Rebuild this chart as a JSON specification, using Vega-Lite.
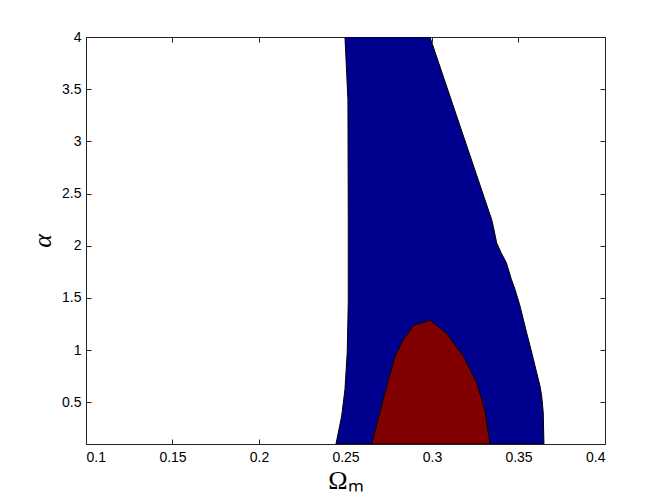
{
  "$schema": "https://vega.github.io/schema/vega-lite/v6.json",
  "width": 519,
  "height": 407,
  "autosize": {"type": "none"},
  "padding": {"left": 86, "top": 37, "right": 59, "bottom": 54},
  "background": "white",
  "config": {
    "view": {"stroke": "#222", "strokeWidth": 1},
    "axis": {
      "grid": false,
      "domain": false,
      "tickColor": "#222",
      "tickSize": -5,
      "labelFont": "Liberation Sans",
      "labelFontSize": 14,
      "labelColor": "#000",
      "titleFont": "Liberation Serif",
      "titleFontWeight": "normal",
      "titleColor": "#000"
    }
  },
  "datasets": {
    "blue": [
      {"i": 0, "omega_m": 0.2497, "alpha": 4.0},
      {"i": 1, "omega_m": 0.2514, "alpha": 3.40},
      {"i": 2, "omega_m": 0.2516, "alpha": 2.25},
      {"i": 3, "omega_m": 0.2516, "alpha": 1.456},
      {"i": 4, "omega_m": 0.2510, "alpha": 0.978},
      {"i": 5, "omega_m": 0.2497, "alpha": 0.624},
      {"i": 6, "omega_m": 0.2478, "alpha": 0.369},
      {"i": 7, "omega_m": 0.2445, "alpha": 0.1},
      {"i": 8, "omega_m": 0.3647, "alpha": 0.1},
      {"i": 9, "omega_m": 0.3643, "alpha": 0.402},
      {"i": 10, "omega_m": 0.3634, "alpha": 0.561},
      {"i": 11, "omega_m": 0.3624, "alpha": 0.657},
      {"i": 12, "omega_m": 0.3605, "alpha": 0.784},
      {"i": 13, "omega_m": 0.3586, "alpha": 0.912},
      {"i": 14, "omega_m": 0.3567, "alpha": 1.039},
      {"i": 15, "omega_m": 0.3547, "alpha": 1.166},
      {"i": 16, "omega_m": 0.3528, "alpha": 1.293},
      {"i": 17, "omega_m": 0.3509, "alpha": 1.421},
      {"i": 18, "omega_m": 0.3480, "alpha": 1.581},
      {"i": 19, "omega_m": 0.3459, "alpha": 1.677},
      {"i": 20, "omega_m": 0.3430, "alpha": 1.836},
      {"i": 21, "omega_m": 0.3400, "alpha": 1.931},
      {"i": 22, "omega_m": 0.3374, "alpha": 2.027},
      {"i": 23, "omega_m": 0.3354, "alpha": 2.186},
      {"i": 24, "omega_m": 0.3345, "alpha": 2.25},
      {"i": 25, "omega_m": 0.2988, "alpha": 4.0}
    ],
    "red": [
      {"i": 0, "omega_m": 0.2651, "alpha": 0.1},
      {"i": 1, "omega_m": 0.2718, "alpha": 0.529},
      {"i": 2, "omega_m": 0.2786, "alpha": 0.943},
      {"i": 3, "omega_m": 0.2834, "alpha": 1.102},
      {"i": 4, "omega_m": 0.2892, "alpha": 1.236},
      {"i": 5, "omega_m": 0.2988, "alpha": 1.287},
      {"i": 6, "omega_m": 0.3085, "alpha": 1.160},
      {"i": 7, "omega_m": 0.3181, "alpha": 0.943},
      {"i": 8, "omega_m": 0.3258, "alpha": 0.688},
      {"i": 9, "omega_m": 0.3306, "alpha": 0.430},
      {"i": 10, "omega_m": 0.3335, "alpha": 0.1}
    ]
  },
  "layer": [
    {
      "data": {"name": "blue"},
      "mark": {"type": "line", "fill": "#00008F", "stroke": "#000", "strokeWidth": 1, "interpolate": "linear-closed", "clip": true},
      "encoding": {
        "x": {
          "field": "omega_m", "type": "quantitative",
          "scale": {"domain": [0.1, 0.4], "nice": false, "zero": false},
          "axis": {"orient": "bottom", "values": [0.1, 0.15, 0.2, 0.25, 0.3, 0.35, 0.4], "format": "~g", "labelPadding": 11, "title": "Ωₘ", "titleFontSize": 26, "titlePadding": 3}
        },
        "y": {
          "field": "alpha", "type": "quantitative",
          "scale": {"domain": [0.1, 4], "nice": false, "zero": false},
          "axis": {"orient": "left", "values": [0.5, 1, 1.5, 2, 2.5, 3, 3.5, 4], "format": "~g", "labelPadding": 10, "title": "α", "titleFontSize": 26, "titleFontStyle": "italic", "titlePadding": 6}
        },
        "order": {"field": "i", "type": "quantitative"}
      }
    },
    {
      "data": {"name": "red"},
      "mark": {"type": "line", "fill": "#800000", "stroke": "#000", "strokeWidth": 1, "interpolate": "linear-closed", "clip": true},
      "encoding": {
        "x": {
          "field": "omega_m", "type": "quantitative",
          "axis": {"orient": "top", "values": [0.1, 0.15, 0.2, 0.25, 0.3, 0.35, 0.4], "labels": false, "title": null}
        },
        "y": {
          "field": "alpha", "type": "quantitative",
          "axis": {"orient": "right", "values": [0.5, 1, 1.5, 2, 2.5, 3, 3.5, 4], "labels": false, "title": null}
        },
        "order": {"field": "i", "type": "quantitative"}
      }
    }
  ],
  "resolve": {"axis": {"x": "independent", "y": "independent"}}
}
